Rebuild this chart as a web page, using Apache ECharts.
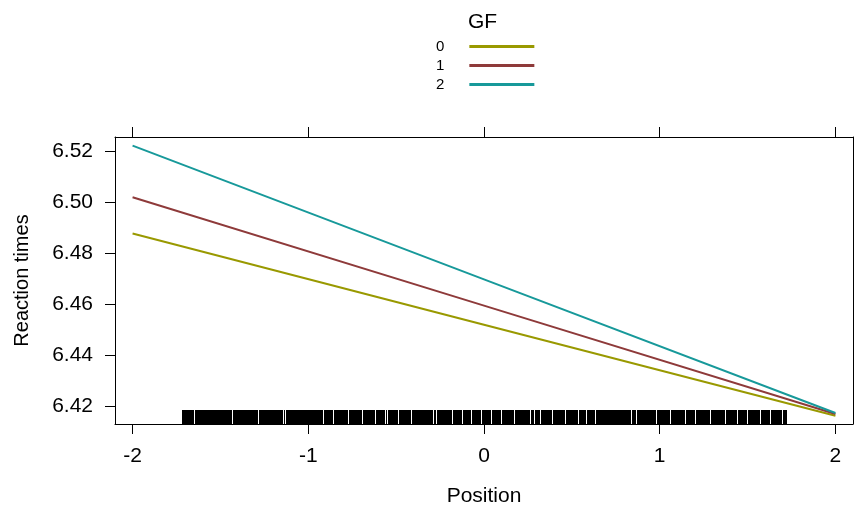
<!DOCTYPE html>
<html>
<head>
<meta charset="utf-8">
<script src="https://cdn.jsdelivr.net/npm/echarts@6/dist/echarts.min.js"></script>
<style>
  html, body { margin: 0; padding: 0; background: #fff; }
  #chart { width: 854px; height: 508px; }
</style>
</head>
<body>
<div id="chart"></div>
<script>
// effect lines, one per GF level (Position -> Reaction times)
const positions = [-2, 0, 2];
const gf0 = [6.4878, 6.4520, 6.4163];
const gf1 = [6.5020, 6.4595, 6.4170];
const gf2 = [6.5222, 6.4698, 6.4174];
const gfNames = ['0', '1', '2'];
const gfColors = ['#999900', '#8e3a3a', '#17999a'];

const xTicks = [-2, -1, 0, 1, 2];
const yTicks = [6.42, 6.44, 6.46, 6.48, 6.50, 6.52];

// rug of observed Position values: first/last value and the gaps between runs
const rugStart = -1.721;
const rugEnd = 1.728;
const rugGaps = [-1.647, -1.431, -1.283, -1.141, -1.124, -0.908, -0.851, -0.771,
  -0.691, -0.612, -0.560, -0.549, -0.481, -0.407, -0.287, -0.270, -0.179, -0.117,
  -0.066, -0.014, 0.043, 0.105, 0.174, 0.265, 0.293, 0.327, 0.390, 0.469, 0.543,
  0.589, 0.640, 0.845, 0.868, 0.987, 1.067, 1.152, 1.209, 1.294, 1.380, 1.443,
  1.500, 1.579, 1.636, 1.699];

const chart = echarts.init(document.getElementById('chart'));

const font = 'Liberation Sans, Arial, sans-serif';
const seriesData = [gf0, gf1, gf2];
const yMin = 6.4131, yMax = 6.5256;

// black runs between gaps
const cuts = [rugStart].concat(rugGaps, [rugEnd]);
const rugRuns = [];
for (let i = 0; i < cuts.length - 1; i++) {
  rugRuns.push([cuts[i], cuts[i + 1]]);
}

const lineSeries = seriesData.map((vals, i) => ({
  name: gfNames[i],
  type: 'line',
  data: positions.map((p, j) => [p, vals[j]]),
  showSymbol: false,
  lineStyle: { width: 2, color: gfColors[i] },
  itemStyle: { color: gfColors[i] },
  z: 3
}));

const boxLine = { show: true, onZero: false, lineStyle: { color: '#000', width: 1 } };

const option = {
  animation: false,
  backgroundColor: '#fff',
  title: {
    text: 'GF',
    left: 463,
    top: 7,
    textStyle: { fontFamily: font, fontSize: 21, fontWeight: 'normal', color: '#000' }
  },
  legend: {
    orient: 'vertical',
    left: 431,
    top: 34,
    align: 'right',
    itemWidth: 65,
    itemHeight: 3,
    itemGap: 4,
    icon: 'rect',
    data: gfNames,
    textStyle: {
      fontFamily: font, fontSize: 15, lineHeight: 15, color: '#000',
      padding: [0, 20, 0, 0]
    }
  },
  grid: { left: 115, right: 1, top: 137, bottom: 84, outerBoundsMode: 'none' },
  xAxis: [{
    type: 'value',
    min: -2.1,
    max: 2.1,
    name: 'Position',
    nameLocation: 'middle',
    nameGap: 62,
    nameTextStyle: { fontFamily: font, fontSize: 21, color: '#000' },
    splitLine: { show: false },
    axisLine: boxLine,
    axisTick: { show: true, length: 10, customValues: xTicks, lineStyle: { color: '#000' } },
    axisLabel: {
      customValues: xTicks, margin: 22, fontFamily: font, fontSize: 21, color: '#000',
      formatter: v => String(v)
    }
  }, {
    type: 'value',
    position: 'top',
    min: -2.1,
    max: 2.1,
    splitLine: { show: false },
    axisLine: boxLine,
    axisTick: { show: true, length: 10, customValues: xTicks, lineStyle: { color: '#000' } },
    axisLabel: { show: false }
  }],
  yAxis: [{
    type: 'value',
    min: yMin,
    max: yMax,
    name: 'Reaction times',
    nameLocation: 'middle',
    nameGap: 83,
    nameTextStyle: { fontFamily: font, fontSize: 20, color: '#000' },
    splitLine: { show: false },
    axisLine: boxLine,
    axisTick: { show: true, length: 10, customValues: yTicks, lineStyle: { color: '#000' } },
    axisLabel: {
      customValues: yTicks, margin: 22, fontFamily: font, fontSize: 21, color: '#000',
      formatter: v => v.toFixed(2)
    }
  }, {
    type: 'value',
    position: 'right',
    min: yMin,
    max: yMax,
    splitLine: { show: false },
    axisLine: boxLine,
    axisTick: { show: false },
    axisLabel: { show: false }
  }],
  series: lineSeries.concat([{
    name: 'rug',
    type: 'custom',
    data: rugRuns,
    silent: true,
    z: 2,
    renderItem: function (params, api) {
      const a = api.coord([api.value(0), yMin]);
      const b = api.coord([api.value(1), yMin]);
      const x0 = Math.round(a[0]);
      const x1 = Math.round(b[0]);
      return {
        type: 'rect',
        shape: { x: x0, y: Math.round(a[1]) - 14, width: Math.max(x1 - x0 - 1, 1), height: 14 },
        style: { fill: '#000' }
      };
    }
  }])
};

chart.setOption(option);
</script>
</body>
</html>
